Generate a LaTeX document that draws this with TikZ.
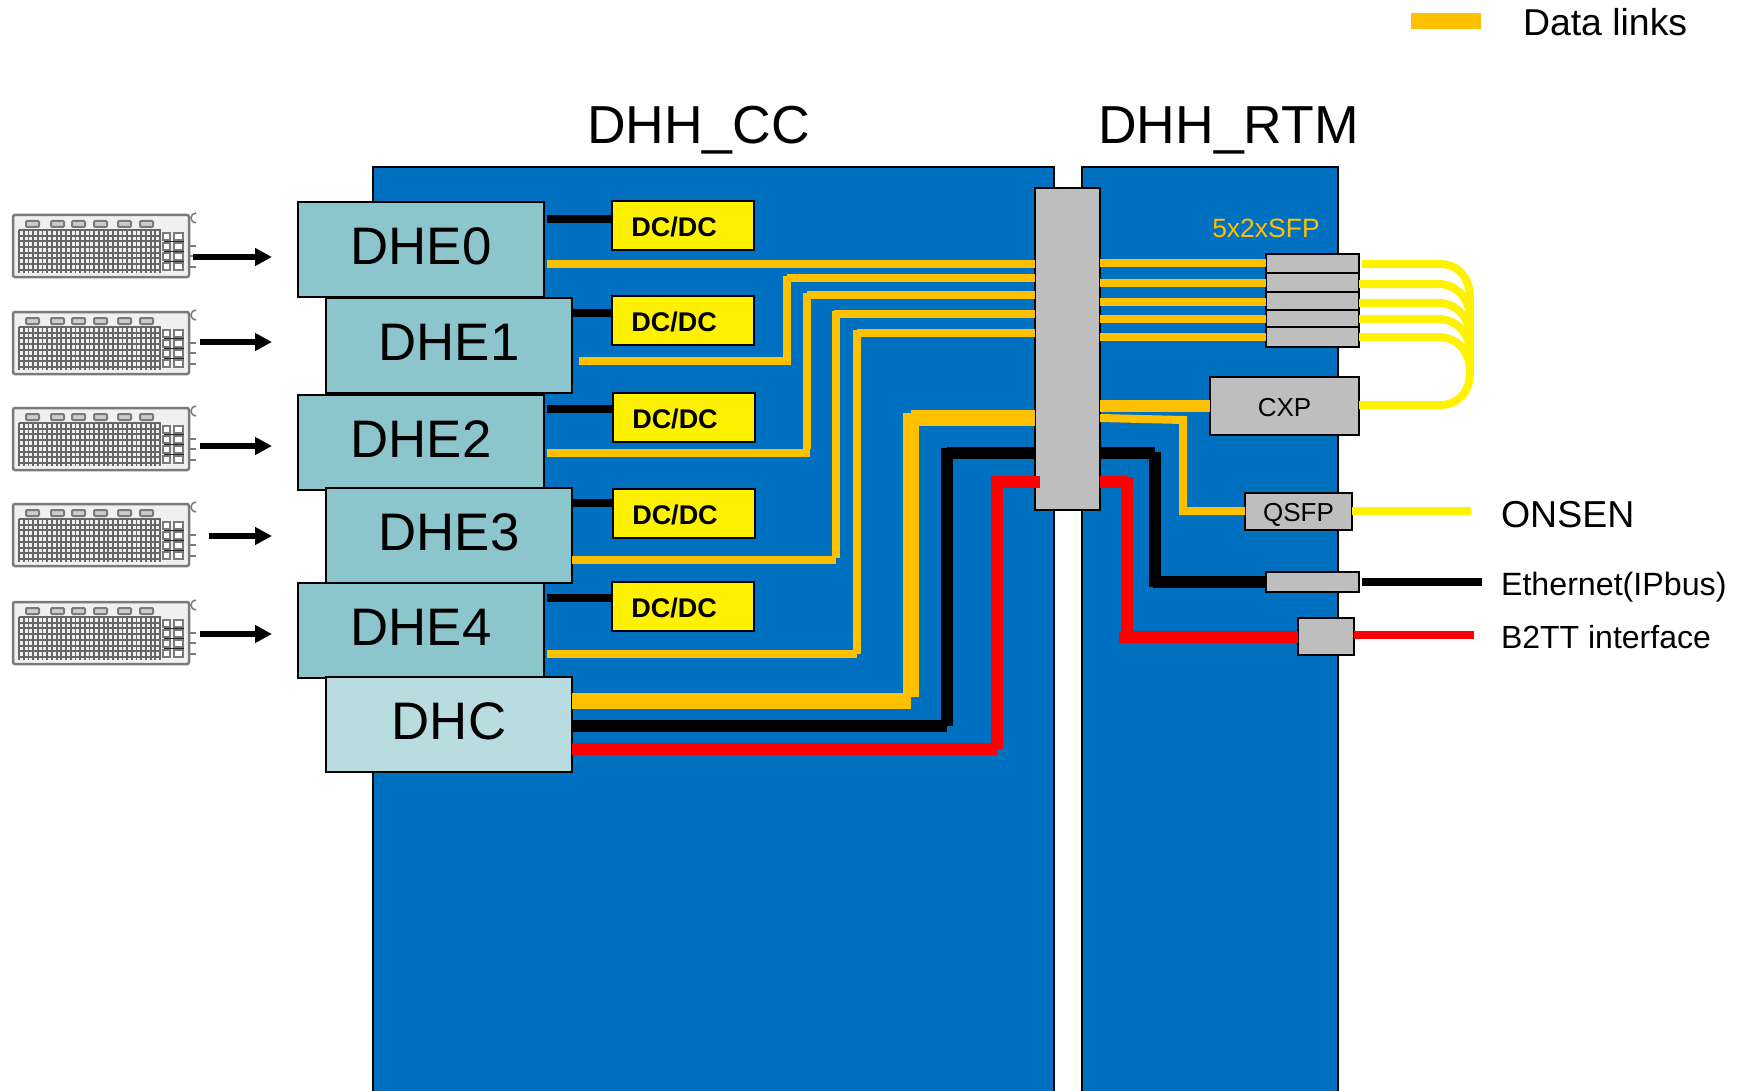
\documentclass[tikz,border=0pt]{standalone}
\usepackage{fontspec}
\setmainfont{Liberation Sans}
\usepackage{xcolor}
\usetikzlibrary{positioning, calc, arrows.meta}
\definecolor{board}{HTML}{0070C0}
\definecolor{gold}{HTML}{FFC000}
\definecolor{dhefill}{HTML}{8DC5CD}
\definecolor{dhcfill}{HTML}{B9DCE1}
\definecolor{partgray}{HTML}{BEBEBE}
\definecolor{modgray}{HTML}{7A7A7A}

\newcommand{\fsize}[1]{\fontsize{#1}{#1}\selectfont}

\tikzset{
    pics/asicmod/.style={code={
        \node[draw=modgray, line width=2.5pt, rounded corners=2pt, fill=black!6, minimum width=176pt, minimum height=62pt, inner sep=0pt, outer sep=0pt, anchor=north west] (-box) at (0,0) {};
        \foreach \px in {13,38,59,81,105,127}
            \draw[modgray, line width=2pt, fill=black!20, rounded corners=1pt] (\px,6) rectangle ++(13,6);
        \foreach \gy in {15,20.7,...,58}
            \draw[black!60, line width=2pt] (6,\gy) -- (148,\gy);
        \foreach \gx in {6,10.7,...,148.5}
            \draw[black!60, line width=1.8pt] (\gx,15) -- (\gx,58);
        \foreach \gy in {18,28,38,48}
            \foreach \gx/\gw in {150/7,161/9}
                \draw[modgray, line width=1.6pt, fill=white] (\gx,\gy) rectangle ++(\gw,7);
        \foreach \gy in {26.5,36.5,46.5}
            \draw[black!85, line width=1.5pt] (151,\gy) -- (171,\gy);
        \foreach \gy in {31,41,52}
            \draw[modgray, line width=1.5pt] (176,\gy) -- ++(7,0);
        \draw[modgray, line width=1.5pt] (183,8) arc (90:270:5);
    }}
}

\begin{document}
\begin{tikzpicture}[x=1pt, y=-1pt, >=stealth,
    dhe/.style={draw=black, line width=2.8pt, fill=dhefill, minimum width=246pt, minimum height=95pt, inner sep=0pt, outer sep=0pt, text depth=7pt, font=\fsize{52.8}},
    dcdc/.style={draw=black, line width=2.8pt, fill=yellow, minimum width=142pt, minimum height=49pt, inner sep=0pt, outer sep=0pt},
    part/.style={draw=black, line width=2.8pt, fill=partgray, inner sep=0pt, outer sep=0pt},
    label/.style={inner sep=0pt, outer sep=0pt, anchor=west},
    link/.style={gold, line width=8pt},
    thicklink/.style={gold, line width=16pt},
    wire/.style={line width=12pt},
    feed/.style={line width=5.5pt, -{Stealth[length=17pt, width=17pt, inset=0pt]}}]
\useasboundingbox (0,0) rectangle (1744,1091);
\clip (0,0) rectangle (1744,1091);

% Boards
\node[part, fill=board, anchor=north west, minimum width=681pt, minimum height=960pt] (cc) at (373,167) {};
\node[part, fill=board, anchor=north west, minimum width=256pt, minimum height=960pt] (rtm) at (1082,167) {};
\node[font=\fsize{53.5}, inner sep=0pt] (cctitle) at (698.5,130) {DHH\_CC};
\node[font=\fsize{53.5}, inner sep=0pt] (rtmtitle) at (1228.5,130) {DHH\_RTM};

% Connector between the boards
\node[part, anchor=north west, minimum width=65pt, minimum height=322pt] (bp) at (1035,188) {};

% DHE column
\node[dhe, anchor=north west] (dhe0) at (298,202) {DHE0};
\node[dhe, below right=1pt and -218pt of dhe0] (dhe1) {DHE1};
\node[dhe, below left=2pt and -218pt of dhe1] (dhe2) {DHE2};
\node[dhe, below right=-2pt and -218pt of dhe2] (dhe3) {DHE3};
\node[dhe, below left=0pt and -218pt of dhe3] (dhe4) {DHE4};
\node[dhe, fill=dhcfill, below right=-1pt and -218pt of dhe4] (dhc) {DHC};

% DC/DC blocks
\node[dcdc, anchor=north west] (dc0) at (612,201) {};
\node[dcdc, anchor=north west] (dc1) at (612,296) {};
\node[dcdc, anchor=north west] (dc2) at (613,393) {};
\node[dcdc, anchor=north west] (dc3) at (613,489) {};
\node[dcdc, anchor=north west] (dc4) at (612,582) {};
\foreach \n in {0,...,4}
    \node[font=\fsize{27}\bfseries, inner sep=0pt] (dct\n) at ($(dc\n.center)+(-9,1.5)$) {DC/DC};

\draw[wire, line width=8pt] (547,219) -- (dc0.west |- 0,219);
\draw[wire, line width=8pt] (dhe1.east |- 0,313) -- (dc1.west |- 0,313);
\draw[wire, line width=8pt] (547,409) -- (dc2.west |- 0,409);
\draw[wire, line width=8pt] (dhe3.east |- 0,503) -- (dc3.west |- 0,503);
\draw[wire, line width=8pt] (547,598) -- (dc4.west |- 0,598);

% Links to the connector
\draw[link] (547,264) -- (bp.west |- 0,264);
\draw[link] (579,361) -- (791,361) (787,365) -- (787,276) (787,278) -- (bp.west |- 0,278);
\draw[link] (547,453) -- (810,453) (807,449) -- (807,293) (807,295) -- (bp.west |- 0,295);
\draw[link] (dhe3.east |- 0,560) -- (836,560) (836,558) -- (836,311) (834,314) -- (bp.west |- 0,314);
\draw[link] (547,654) -- (857,654) (857,654) -- (857,330) (857,333) -- (bp.west |- 0,333);
\draw[thicklink] (dhc.east |- 0,701) -- (911,701) (911,697) -- (911,413) (911,418) -- (bp.west |- 0,418);
\draw[wire, black] (dhc.east |- 0,726) -- (947,726) (947,726) -- (947,448) (947,453) -- (bp.west |- 0,453);
\draw[wire, red] (dhc.east |- 0,749) -- (997,749) (997,749) -- (997,476) (991,482) -- (1040,482);

% Parts on the RTM
\node[part, anchor=north west, minimum width=93pt, minimum height=19pt] (sfp0) at (1266,254) {};
\node[part, anchor=north west, minimum width=93pt, minimum height=19pt] (sfp1) at (1266,273) {};
\node[part, anchor=north west, minimum width=93pt, minimum height=18pt] (sfp2) at (1266,292) {};
\node[part, anchor=north west, minimum width=93pt, minimum height=17pt] (sfp3) at (1266,310) {};
\node[part, anchor=north west, minimum width=93pt, minimum height=20pt] (sfp4) at (1266,327) {};
\node[font=\fsize{26.5}, text=gold, inner sep=0pt] (sfplabel) at (1266,228) {5x2xSFP};
\node[part, anchor=north west, minimum width=149pt, minimum height=58pt, text height=20.6pt, text depth=0pt, font=\fsize{26}] (cxp) at (1210,377) {CXP};
\node[part, anchor=north west, minimum width=107pt, minimum height=37pt, text height=20.6pt, text depth=0pt, font=\fsize{26}] (qsfp) at (1245,493) {QSFP};
\node[part, anchor=north west, minimum width=93pt, minimum height=20pt] (eth) at (1266,572) {};
\node[part, anchor=north west, minimum width=56pt, minimum height=37pt] (b2tt) at (1298,618) {};

\draw[link] (bp.east |- 0,263) -- (sfp0.west |- 0,263);
\draw[link] (bp.east |- 0,283) -- (sfp1.west |- 0,283);
\draw[link] (bp.east |- 0,302) -- (sfp2.west |- 0,302);
\draw[link] (bp.east |- 0,319) -- (sfp3.west |- 0,319);
\draw[link] (bp.east |- 0,337) -- (sfp4.west |- 0,337);
\draw[gold, line width=12pt] (bp.east |- 0,406) -- (cxp.west |- 0,406);
\draw[link] (bp.east |- 0,418) -- (1183,420) (1183,416) -- (1183,515) (1183,511) -- (qsfp.west |- 0,511);
\draw[wire, black] (bp.east |- 0,453) -- (1155,453) (1155,452) -- (1155,587) (1153,582) -- (eth.west |- 0,582);
\draw[wire, red] (bp.east |- 0,482) -- (1127,482) (1127,477) -- (1127,637) (1119,637) -- (b2tt.west |- 0,637);

% Yellow fibres
\draw[link, yellow] (1362,264) -- (1440,264) .. controls (1458,264) and (1470,278) .. (1470,298);
\draw[link, yellow] (sfp1.east |- 0,284) -- (1438,284) .. controls (1456,284) and (1468,297) .. (1470,315);
\draw[link, yellow] (sfp2.east |- 0,303) -- (1438,303) .. controls (1456,303) and (1468,316) .. (1470,334);
\draw[link, yellow] (sfp3.east |- 0,319) -- (1438,319) .. controls (1456,319) and (1468,332) .. (1470,350);
\draw[link, yellow] (sfp4.east |- 0,337) -- (1438,337) .. controls (1456,337) and (1470,350) .. (1470,372);
\draw[link, yellow] (cxp.east |- 0,405) -- (1440,405) .. controls (1458,405) and (1470,392) .. (1470,372) -- (1470,296);

% Outputs
\coordinate (onsenend) at (1471,511);
\coordinate (ethend) at (1482,582);
\coordinate (b2ttend) at (1474,635);
\draw[link, yellow] (qsfp.east |- 0,511) -- (onsenend);
\draw[link, black] (1362,582) -- (ethend);
\draw[link, red] (b2tt.east |- 0,635) -- (b2ttend);
\node[label, font=\fsize{37.5}] (onsen) at (1501,515) {ONSEN};
\node[label, font=\fsize{32.2}] (ethlabel) at (1501,587) {Ethernet(IPbus)};
\node[label, font=\fsize{32}] (b2ttlabel) at (1501,637) {B2TT interface};

% Legend
\coordinate (legendend) at (1481,21);
\draw[thicklink] (1411,21) -- (legendend);
\node[label, font=\fsize{37.4}] (legend) at (1523,22) {Data links};

% Front-end modules
\pic (mod0) at (13,215) {asicmod};
\pic (mod1) at (13,312) {asicmod};
\pic (mod2) at (13,408) {asicmod};
\pic (mod3) at (13,504) {asicmod};
\pic (mod4) at (13,602) {asicmod};
\coordinate (feed0) at (272,257);
\coordinate (feed1) at (272,342);
\coordinate (feed2) at (272,446);
\coordinate (feed3) at (272,536);
\coordinate (feed4) at (272,634);
\draw[feed] (193,257) -- (feed0);
\draw[feed] (200,342) -- (feed1);
\draw[feed] (200,446) -- (feed2);
\draw[feed] (209,536) -- (feed3);
\draw[feed] (200,634) -- (feed4);
\end{tikzpicture}
\end{document}
